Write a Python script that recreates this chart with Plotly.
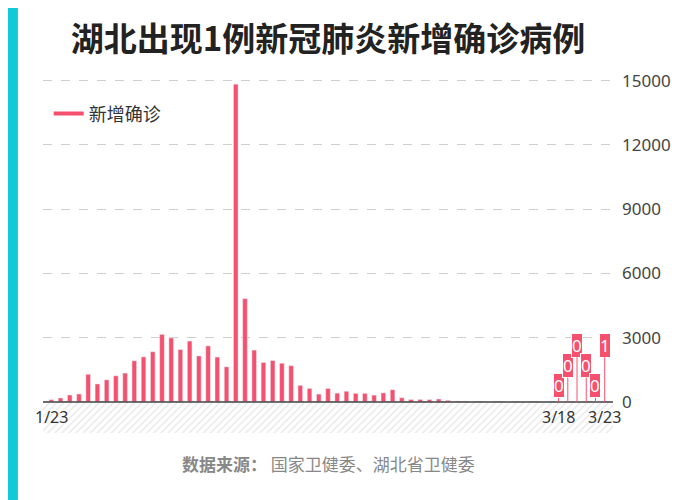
import plotly.graph_objects as go
import datetime as dt

start = dt.date(2020, 1, 23)
dates = [(start + dt.timedelta(days=i)) for i in range(61)]
labels = [f"{d.month}/{d.day}" for d in dates]
values = [105, 185, 323, 371, 1291, 840, 1032, 1220, 1347, 1921, 2103, 2345, 3156, 2987,
          2447, 2841, 2147, 2618, 2097, 1638, 14840, 4823, 2420, 1843, 1933, 1807, 1693,
          775, 631, 366, 630, 411, 499, 401, 399, 318, 423, 570, 196, 114, 115, 111,
          139, 74, 41, 36, 17, 13, 8, 5, 4, 4, 4, 1, 1, 0, 0, 0, 0, 0, 1]
ann_idx = [55, 56, 57, 58, 59, 60]
ann_h = [750, 1700, 2650, 1700, 750, 2650]
tick_show = ["1/23", "3/18", "3/23"]

pink = "#f5506e"
fig = go.Figure()
fig.add_bar(x=list(range(61)), y=values, marker_color=pink, width=0.5, showlegend=False)
fig.add_scatter(x=[None], y=[None], mode="lines", line=dict(color=pink, width=4), name="新增确诊")
fig.add_scatter(x=[-0.9, 60.9, 60.9, -0.9], y=[0, 0, -1450, -1450], fill="toself", mode="none",
                fillcolor="rgba(0,0,0,0)", fillpattern=dict(shape="/", fgcolor="#cccccc", size=5, solidity=0.25),
                showlegend=False, hoverinfo="skip")
for i, h in zip(ann_idx, ann_h):
    fig.add_annotation(x=i, y=0, ax=i, ay=h, axref="x", ayref="y", xref="x", yref="y",
                       text=f"{values[i]}", showarrow=True, arrowhead=0, arrowwidth=1, arrowcolor=pink,
                       bgcolor=pink, bordercolor="white", borderwidth=1,
                       font=dict(color="white", size=17, family="Noto Sans"), borderpad=0,
                       standoff=0, startstandoff=0)
for t in tick_show:
    fig.add_annotation(x=labels.index(t), y=-720, text=t, showarrow=False, xref="x", yref="y",
                       font=dict(size=16, color="#333", family="Noto Sans"))
fig.add_annotation(x=0.5, y=-0.125, xref="paper", yref="paper", showarrow=False,
                   text="<b>数据来源：</b> 国家卫健委、湖北省卫健委",
                   font=dict(size=17, color="#888", family="Noto Sans CJK SC"))
fig.add_shape(type="rect", xref="paper", yref="paper", x0=-0.1, x1=-0.044, y0=-0.5, y1=1.3,
              fillcolor="#12cad6", line_width=0, layer="below")
fig.add_shape(type="rect", xref="paper", yref="paper", x0=1.145, x1=1.3, y0=-0.5, y1=1.3,
              fillcolor="#12cad6", line_width=0, layer="above")
fig.add_shape(type="line", xref="paper", yref="y", x0=0, x1=1, y0=0, y1=0, line=dict(color="#444", width=1.5))
fig.update_layout(
    width=700, height=500, margin=dict(l=35, r=95, t=62, b=75),
    plot_bgcolor="white", paper_bgcolor="white",
    title=dict(text="<b>湖北出现1例新冠肺炎新增确诊病例</b>", x=0.5, xanchor="center", xref="paper", y=0.96,
               font=dict(size=33, color="#222", family="Noto Sans CJK SC")),
    legend=dict(x=0.01, y=0.93, font=dict(size=18, color="#333", family="Noto Sans CJK SC"), bgcolor="rgba(0,0,0,0)"),
    xaxis=dict(range=[-0.9, 60.9], showticklabels=False, showgrid=False, zeroline=False),
    yaxis=dict(side="right", range=[-1450, 15500], tickvals=[0, 3000, 6000, 9000, 12000, 15000],
               tickformat="d", gridcolor="#cfcfcf", griddash="dash", zeroline=False,
               tickfont=dict(size=17, color="#444", family="Noto Sans"), ticklabelstandoff=8),
    bargap=0.4,
)
fig.write_html("out.html")
